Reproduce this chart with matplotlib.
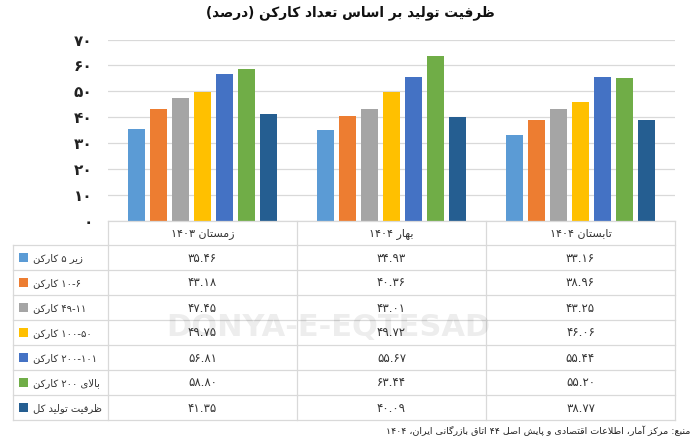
import re
import matplotlib
matplotlib.use("Agg")
import matplotlib.pyplot as plt
from matplotlib.patches import Rectangle
from matplotlib import font_manager

# ---------------- data ----------------
periods = ["زمستان ۱۴۰۳", "بهار ۱۴۰۴", "تابستان ۱۴۰۴"]
series_names = ["زیر ۵ کارکن", "۶-۱۰ کارکن", "۱۱-۴۹ کارکن", "۵۰-۱۰۰ کارکن",
                "۱۰۱-۲۰۰ کارکن", "بالای ۲۰۰ کارکن", "ظرفیت تولید کل"]
under5 = [35.46, 34.93, 33.16]
w6_10 = [43.18, 40.36, 38.96]
w11_49 = [47.45, 43.01, 43.25]
w50_100 = [49.75, 49.72, 46.06]
w101_200 = [56.81, 55.67, 55.44]
over200 = [58.80, 63.44, 55.20]
total = [41.35, 40.09, 38.77]
series_values = [under5, w6_10, w11_49, w50_100, w101_200, over200, total]
yticks = [0, 10, 20, 30, 40, 50, 60, 70]
title = "ظرفیت تولید بر اساس تعداد کارکن (درصد)"
source = "منبع: مرکز آمار، اطلاعات اقتصادی و پایش اصل ۴۴ اتاق بازرگانی ایران، ۱۴۰۴"

colors = ["#5B9BD5", "#ED7D31", "#A5A5A5", "#FFC000", "#4472C4", "#70AD47", "#255E91"]

# ---------------- simple Arabic/Persian shaping ----------------
DUAL = {'ب': 0xFE8F, 'ت': 0xFE95, 'ث': 0xFE99, 'ج': 0xFE9D, 'ح': 0xFEA1, 'خ': 0xFEA5,
        'س': 0xFEB1, 'ش': 0xFEB5, 'ص': 0xFEB9, 'ض': 0xFEBD, 'ط': 0xFEC1, 'ظ': 0xFEC5,
        'ع': 0xFEC9, 'غ': 0xFECD, 'ف': 0xFED1, 'ق': 0xFED5, 'ل': 0xFEDD, 'م': 0xFEE1,
        'ن': 0xFEE5, 'ه': 0xFEE9, 'پ': 0xFB56, 'چ': 0xFB7A, 'ک': 0xFB8E, 'گ': 0xFB92,
        'ی': 0xFBFC}
RIGHT = {'ا': 0xFE8D, 'آ': 0xFE81, 'د': 0xFEA9, 'ذ': 0xFEAB, 'ر': 0xFEAD, 'ز': 0xFEAF,
         'و': 0xFEED, 'ژ': 0xFB8A}


def jtype(c):
    if c in DUAL:
        return 'D'
    if c in RIGHT:
        return 'R'
    return 'U'


def shape(s):
    s = s.replace('ي', 'ی').replace('ك', 'ک')
    out = []
    i, n = 0, len(s)
    while i < n:
        c = s[i]
        t = jtype(c)
        if t == 'U':
            out.append(c)
            i += 1
            continue
        jp = i > 0 and jtype(s[i - 1]) == 'D'
        if c == 'ل' and i + 1 < n and s[i + 1] in ('ا', 'آ'):
            lig = {'ا': ('\uFEFB', '\uFEFC'), 'آ': ('\uFEF5', '\uFEF6')}[s[i + 1]]
            out.append(lig[1] if jp else lig[0])
            i += 2
            continue
        jn = t == 'D' and i + 1 < n and jtype(s[i + 1]) in ('D', 'R')
        if t == 'D':
            base = DUAL[c]
            k = 3 if (jp and jn) else 1 if jp else 2 if jn else 0
        else:
            base = RIGHT[c]
            k = 1 if jp else 0
        out.append(chr(base + k))
        i += 1
    return ''.join(out)


def rtl(s):
    shaped = shape(s)
    toks = re.findall(r'[0-9۰-۹]+(?:[.٫][0-9۰-۹]+)*|.', shaped)
    mirror = {'(': ')', ')': '('}
    return ''.join(mirror.get(t, t) for t in reversed(toks))


FA = str.maketrans("0123456789", "۰۱۲۳۴۵۶۷۸۹")


def fa(x, fmt="{:.2f}"):
    return fmt.format(x).translate(FA)


# condensed DejaVu if available
names = {f.name for f in font_manager.fontManager.ttflist}
COND = "DejaVu Sans Condensed" if "DejaVu Sans Condensed" in names else "DejaVu Sans"

# ---------------- figure ----------------
plt.rcParams['font.family'] = ['DejaVu Sans']
W, H = 700, 441
fig = plt.figure(figsize=(W / 100, H / 100), dpi=100)
fig.patch.set_facecolor("white")


def fx(px):
    return px / W


def fy(py):
    return 1 - py / H


# bar axes
L, R, T, B = 108, 675, 39.5, 220.8
ax = fig.add_axes([fx(L), fy(B), fx(R - L), (B - T) / H])
nser = len(series_values)
step = 0.1164
bw = 0.09
xs = range(len(periods))
for j, (vals, col) in enumerate(zip(series_values, colors)):
    off = (j - (nser - 1) / 2) * step
    ax.bar([x + off for x in xs], vals, width=bw, color=col, zorder=3)
ax.set_xlim(-0.5, len(periods) - 0.5)
ax.set_ylim(0, 70)
ax.set_yticks(yticks)
ax.set_yticklabels([fa(v, "{:d}") for v in yticks], fontsize=11, fontweight="bold",
                   color="#222222")
ax.tick_params(axis="y", length=0, pad=11)
ax.set_xticks([])
for sp in ax.spines.values():
    sp.set_visible(False)
ax.yaxis.grid(True, color="#D9D9D9", linewidth=0.9, zorder=0)
ax.set_facecolor("none")

# title
fig.text(0.5, fy(13), rtl(title), ha="center", va="center", fontsize=9.8,
         fontweight="bold", color="#111111", family=COND)

# ---------------- data table ----------------
TL, TT, TB = 13, 221, 420
hdr = 24
rowh = 25
tax = fig.add_axes([fx(TL), fy(TB), fx(R - TL), (TB - TT) / H])
leftcat = -0.5 - (L - TL) / ((R - L) / len(periods))
tax.set_xlim(leftcat, len(periods) - 0.5)
tax.set_ylim(TB - TT, 0)
tax.axis("off")
lc = "#D9D9D9"
lw = 0.9
nrows = len(series_names)
tax.plot([-0.5, len(periods) - 0.5], [0, 0], color=lc, lw=lw, clip_on=False)
for r in range(nrows + 1):
    y = hdr + r * rowh
    tax.plot([leftcat, len(periods) - 0.5], [y, y], color=lc, lw=lw, clip_on=False)
tax.plot([leftcat, leftcat], [hdr, hdr + nrows * rowh], color=lc, lw=lw, clip_on=False)
for c in range(len(periods) + 1):
    x = c - 0.5
    tax.plot([x, x], [0, hdr + nrows * rowh], color=lc, lw=lw, clip_on=False)

for c, p in enumerate(periods):
    tax.text(c, hdr / 2 + 0.5, rtl(p), ha="center", va="center", fontsize=8,
             color="#333333", family=COND)

px_per_cat = (R - L) / len(periods)
for r, (name, vals, col) in enumerate(zip(series_names, series_values, colors)):
    yc = hdr + r * rowh + rowh / 2
    sq_x = leftcat + (19 - TL) / px_per_cat
    sq_w = 8.5 / px_per_cat
    tax.add_patch(Rectangle((sq_x, yc - 4.25), sq_w, 8.5, facecolor=col,
                            edgecolor="none", clip_on=False))
    tax.text(leftcat + (33 - TL) / px_per_cat, yc + 0.5, rtl(name), ha="left",
             va="center", fontsize=7.2, color="#333333", family=COND)
    for c, v in enumerate(vals):
        tax.text(c, yc + 0.5, fa(v), ha="center", va="center", fontsize=8.5,
                 color="#333333")

# watermark
fig.text(fx(328), fy(327), "DONYA-E-EQTESAD", ha="center", va="center", fontsize=22,
         fontweight="bold", color="#000000", alpha=0.07, zorder=0)

# source
fig.text(fx(690), fy(431), rtl(source), ha="right", va="center", fontsize=6.8,
         color="#222222", family=COND)

fig.savefig("out.png", dpi=100, facecolor="white")
